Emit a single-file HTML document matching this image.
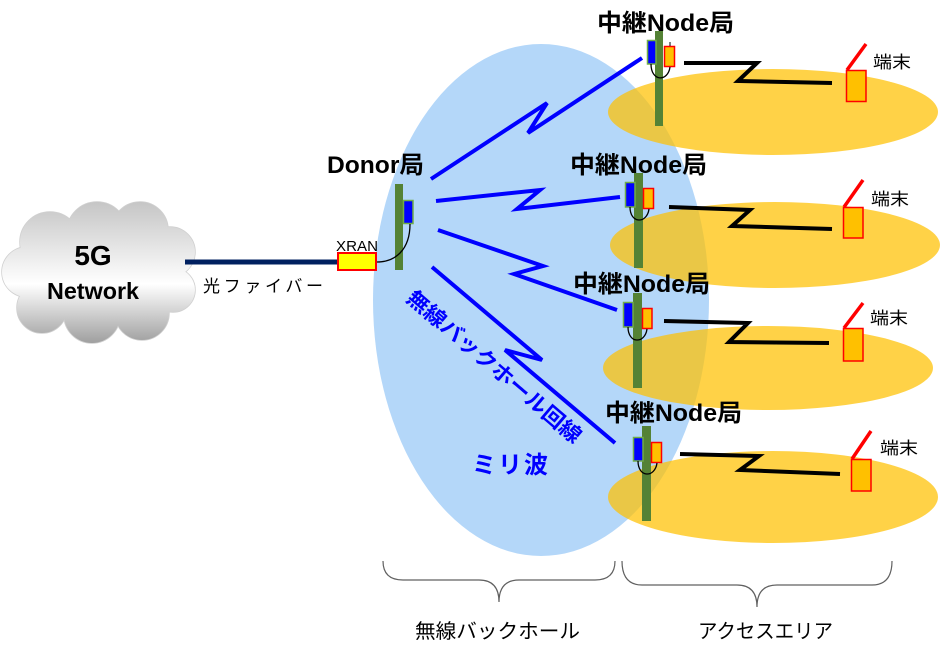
<!DOCTYPE html>
<html><head><meta charset="utf-8"><style>
html,body{margin:0;padding:0;background:#fff;}
svg{display:block;}
text{font-family:"Liberation Sans","Noto Sans CJK JP",sans-serif;}
</style></head><body>
<svg width="940" height="660" viewBox="0 0 940 660" xmlns="http://www.w3.org/2000/svg">
<defs>
<linearGradient id="cg2" x1="0" y1="200" x2="0" y2="345" gradientUnits="userSpaceOnUse">
<stop offset="0" stop-color="#c4c4c4"/>
<stop offset="0.58" stop-color="#ffffff"/>
<stop offset="1" stop-color="#9c9c9c"/>
</linearGradient>
</defs>
<rect width="940" height="660" fill="#fff"/>

<!-- cloud -->
<g fill="none" stroke="#d0d0d0" stroke-width="1.5">
<circle cx="50" cy="242" r="30"/>
<circle cx="97" cy="232" r="30"/>
<circle cx="140" cy="230" r="28"/>
<circle cx="170" cy="252" r="25"/>
<circle cx="27" cy="272" r="25"/>
<circle cx="173" cy="290" r="22"/>
<circle cx="42" cy="308" r="25"/>
<circle cx="92" cy="315" r="28"/>
<circle cx="142" cy="313" r="27"/>
</g>
<g fill="url(#cg2)">
<circle cx="50" cy="242" r="30"/>
<circle cx="97" cy="232" r="30"/>
<circle cx="140" cy="230" r="28"/>
<circle cx="170" cy="252" r="25"/>
<circle cx="27" cy="272" r="25"/>
<circle cx="173" cy="290" r="22"/>
<circle cx="42" cy="308" r="25"/>
<circle cx="92" cy="315" r="28"/>
<circle cx="142" cy="313" r="27"/>
<ellipse cx="98" cy="275" rx="80" ry="48"/>
</g>
<text x="93" y="265" font-size="28" font-weight="bold" text-anchor="middle" fill="#000">5G</text>
<text x="93" y="299" font-size="23" font-weight="bold" text-anchor="middle" fill="#000" textLength="92" lengthAdjust="spacingAndGlyphs">Network</text>

<!-- fiber -->
<line x1="185" y1="262" x2="337" y2="262" stroke="#002060" stroke-width="5"/>
<text x="203" y="292" font-size="17" fill="#000" textLength="120" lengthAdjust="spacing">光ファイバー</text>

<!-- blue area -->
<ellipse cx="541" cy="300" rx="168" ry="256" fill="#b4d7f9"/>

<!-- yellow areas -->
<g fill="#ffc000" fill-opacity="0.72">
<ellipse cx="773" cy="112" rx="165" ry="43"/>
<ellipse cx="775" cy="245" rx="165" ry="43"/>
<ellipse cx="768" cy="368" rx="165" ry="42"/>
<ellipse cx="773" cy="497" rx="165" ry="46"/>
</g>

<!-- backhaul lines -->
<g fill="none" stroke="#0000ff" stroke-width="4" stroke-linejoin="miter">
<polyline points="431,179 547,103 528,133 642,58"/>
<polyline points="436,201 540,190 517,209 620,197"/>
<polyline points="438,230 543,266 514,274 617,310"/>
<polyline points="432,267 542,360 505,350 615,443"/>
</g>

<!-- XRAN & donor -->
<text x="336" y="251" font-size="15" fill="#000" textLength="42" lengthAdjust="spacingAndGlyphs">XRAN</text>
<rect x="338" y="253" width="38" height="17" fill="#ffff00" stroke="#ff0000" stroke-width="2"/>
<rect x="395" y="184" width="8" height="86" fill="#548235"/>
<rect x="403.5" y="200.5" width="9.5" height="23" fill="#0000ff" stroke="#70ad47" stroke-width="1.5"/>
<path d="M410,224 C410,250 395,262 377,262" fill="none" stroke="#000" stroke-width="1.3"/>
<text x="327" y="173" font-size="24" font-weight="bold" fill="#000" textLength="97" lengthAdjust="spacingAndGlyphs">Donor局</text>

<!-- relay nodes -->
<g>
<rect x="655" y="31" width="8" height="95" fill="#548235"/>
<rect x="647.5" y="40.5" width="8.5" height="23.5" fill="#0000ff" stroke="#70ad47" stroke-width="1.5"/>
<rect x="664.5" y="46.5" width="10" height="20" fill="#ffc000" stroke="#ff0000" stroke-width="1.5"/>
<path d="M651,64 C651,82 668,82 670,67" fill="none" stroke="#000" stroke-width="1.3"/>
<line x1="670" y1="42" x2="670" y2="46" stroke="#000" stroke-width="1"/>
<text x="597" y="31" font-size="24" font-weight="bold" fill="#000" textLength="137" lengthAdjust="spacingAndGlyphs">中継Node局</text>
</g>
<g>
<rect x="634" y="173" width="9" height="95" fill="#548235"/>
<rect x="625.5" y="182.5" width="9.5" height="24.5" fill="#0000ff" stroke="#70ad47" stroke-width="1.5"/>
<rect x="643.5" y="188.5" width="10" height="20" fill="#ffc000" stroke="#ff0000" stroke-width="1.5"/>
<path d="M630,207 C630,224 647,224 649,209" fill="none" stroke="#000" stroke-width="1.3"/>
<text x="570" y="173" font-size="24" font-weight="bold" fill="#000" textLength="137" lengthAdjust="spacingAndGlyphs">中継Node局</text>
</g>
<g>
<rect x="633" y="293" width="9" height="95" fill="#548235"/>
<rect x="623.5" y="302.5" width="9.5" height="24.5" fill="#0000ff" stroke="#70ad47" stroke-width="1.5"/>
<rect x="642.5" y="308.5" width="9.5" height="20" fill="#ffc000" stroke="#ff0000" stroke-width="1.5"/>
<path d="M628,327 C628,344 645,344 647,329" fill="none" stroke="#000" stroke-width="1.3"/>
<text x="573" y="292" font-size="24" font-weight="bold" fill="#000" textLength="137" lengthAdjust="spacingAndGlyphs">中継Node局</text>
</g>
<g>
<rect x="642" y="426" width="9" height="95" fill="#548235"/>
<rect x="633.5" y="437.5" width="9.5" height="23.5" fill="#0000ff" stroke="#70ad47" stroke-width="1.5"/>
<rect x="651.5" y="442.5" width="10" height="20" fill="#ffc000" stroke="#ff0000" stroke-width="1.5"/>
<path d="M638,461 C638,478 655,478 657,463" fill="none" stroke="#000" stroke-width="1.3"/>
<text x="605" y="421" font-size="24" font-weight="bold" fill="#000" textLength="137" lengthAdjust="spacingAndGlyphs">中継Node局</text>
</g>

<!-- access links -->
<g fill="none" stroke="#000" stroke-width="4">
<polyline points="684,63 757,63 738,81 832,83"/>
<polyline points="669,207 750,210 732,226 832,229"/>
<polyline points="664,321 748,323 729,342 829,343"/>
<polyline points="680,454 759,456 740,470 840,474"/>
</g>

<!-- terminals -->
<g stroke="#ff0000">
<rect x="846.5" y="70.5" width="19.5" height="31" fill="#ffc000" stroke-width="1.5"/>
<line x1="847" y1="70" x2="866" y2="44" stroke-width="3.5"/>
<rect x="843.5" y="207.5" width="19.5" height="30.5" fill="#ffc000" stroke-width="1.5"/>
<line x1="844" y1="207" x2="863" y2="180" stroke-width="3.5"/>
<rect x="843.5" y="328.5" width="19.5" height="32.5" fill="#ffc000" stroke-width="1.5"/>
<line x1="844" y1="328" x2="863" y2="303" stroke-width="3.5"/>
<rect x="851.5" y="459.5" width="19.5" height="31.5" fill="#ffc000" stroke-width="1.5"/>
<line x1="852" y1="459" x2="871" y2="431" stroke-width="3.5"/>
</g>
<g font-size="17" fill="#000">
<text x="873" y="68" textLength="38" lengthAdjust="spacingAndGlyphs">端末</text>
<text x="871" y="205" textLength="38" lengthAdjust="spacingAndGlyphs">端末</text>
<text x="870" y="324" textLength="38" lengthAdjust="spacingAndGlyphs">端末</text>
<text x="880" y="454" textLength="38" lengthAdjust="spacingAndGlyphs">端末</text>
</g>

<!-- rotated label -->
<g transform="translate(494,367) rotate(40.5)">
<text x="0" y="7" font-size="21" font-weight="bold" fill="#0000ff" text-anchor="middle" textLength="222" lengthAdjust="spacingAndGlyphs">無線バックホール回線</text>
</g>
<text x="472" y="473" font-size="24" font-weight="bold" fill="#0000ff" textLength="76" lengthAdjust="spacing">ミリ波</text>

<!-- braces -->
<g fill="none" stroke="#606060" stroke-width="1.2">
<path d="M383,561 Q383,580 403,580 L479,580 Q499,580 499,602 Q499,580 519,580 L595,580 Q615,580 615,561"/>
<path d="M622,561 Q622,585 642,585 L737,585 Q757,585 757,607 Q757,585 777,585 L872,585 Q892,585 892,561"/>
</g>
<text x="415" y="638" font-size="20" fill="#000" textLength="165" lengthAdjust="spacingAndGlyphs">無線バックホール</text>
<text x="698" y="638" font-size="20" fill="#000" textLength="135" lengthAdjust="spacingAndGlyphs">アクセスエリア</text>
</svg>
</body></html>
